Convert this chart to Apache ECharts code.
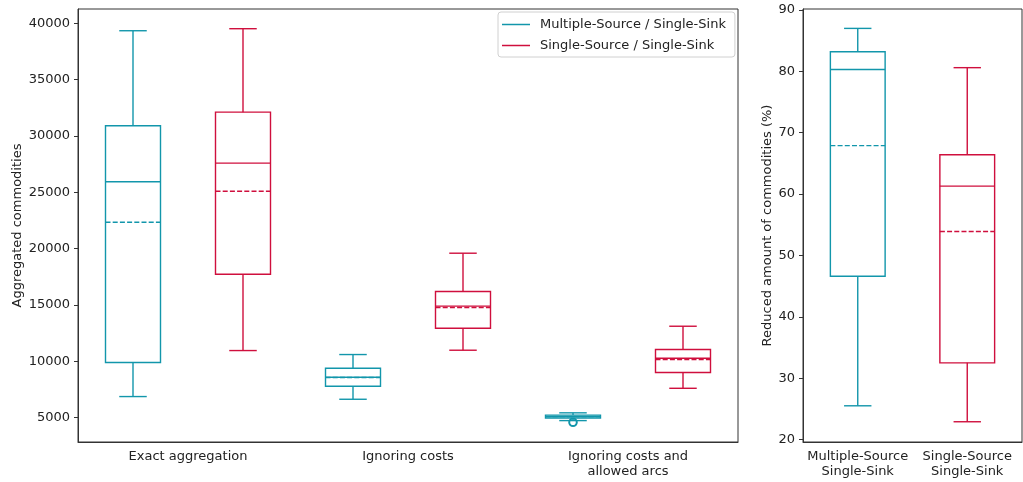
<!DOCTYPE html>
<html>
<head>
<meta charset="utf-8">
<script src="https://cdn.jsdelivr.net/npm/echarts@6/dist/echarts.min.js"></script>
<style>
  html, body { margin: 0; padding: 0; background: #fff; }
  #chart { width: 1023px; height: 482px; }
</style>
</head>
<body>
<div id="chart"></div>
<script>
// Aggregation scenarios (left panel)
const scenarios = ['Exact aggregation', 'Ignoring costs', 'Ignoring costs and\nallowed arcs'];
const seriesNames = ['Multiple-Source / Single-Sink', 'Single-Source / Single-Sink'];

// Multiple-Source / Single-Sink: aggregated commodities
const msLow    = [6865, 6625, 4730];
const msQ1     = [9885, 7780, 4960];
const msMedian = [25940, 8580, 5090];
const msQ3     = [30910, 9380, 5220];
const msHigh   = [39350, 10596, 5420];
const msMean   = [22350, 8560, 5080];
const msFliers = [[2, 4580]];

// Single-Source / Single-Sink: aggregated commodities
const ssLow    = [10950, 10980, 7600];
const ssQ1     = [17730, 12930, 9000];
const ssMedian = [27590, 14900, 10270];
const ssQ3     = [32120, 16190, 11040];
const ssHigh   = [39530, 19595, 13110];
const ssMean   = [25100, 14780, 10150];
const ssFliers = [];

// Reduction in commodities, percent (right panel)
const problemTypes = ['Multiple-Source\nSingle-Sink', 'Single-Source\nSingle-Sink'];
const redLow    = [25.5, 22.9];
const redQ1     = [46.6, 32.5];
const redMedian = [80.3, 61.3];
const redQ3     = [83.2, 66.4];
const redHigh   = [87.0, 80.6];
const redMean   = [67.9, 53.9];

const leftTicks  = [5000, 10000, 15000, 20000, 25000, 30000, 35000, 40000];
const rightTicks = [20, 30, 40, 50, 60, 70, 80, 90];

const TEAL = '#1296ab';
const RED = '#cf0f3d';
const INK = '#222';
const SPINE = '#333';
const FONT = 'DejaVu Sans';

function rows(low, q1, med, q3, high, mean) {
  return low.map((_, i) => [i, low[i], q1[i], med[i], q3[i], high[i], mean[i]]);
}

// Draws one box per data item, shifted by `shift` band widths from the category centre;
// `widthFrac` is the box width as a fraction of the band, caps are half of it
function boxRenderer(color, shift, widthFrac, fliers) {
  return function (params, api) {
    const idx = api.value(0);
    const band = api.size([1, 0])[0];
    const cx = api.coord([idx, api.value(3)])[0] + shift * band;
    const half = band * widthFrac / 2;
    const capHalf = half / 2;
    const y = k => api.coord([idx, api.value(k)])[1];
    const yLow = y(1), yQ1 = y(2), yMed = y(3), yQ3 = y(4), yHigh = y(5), yMean = y(6);
    const st = { stroke: color, lineWidth: 1.4, fill: null };
    const children = [
      { type: 'line', shape: { x1: cx, y1: yQ1, x2: cx, y2: yLow }, style: st },
      { type: 'line', shape: { x1: cx, y1: yQ3, x2: cx, y2: yHigh }, style: st },
      { type: 'line', shape: { x1: cx - capHalf, y1: yLow, x2: cx + capHalf, y2: yLow }, style: st },
      { type: 'line', shape: { x1: cx - capHalf, y1: yHigh, x2: cx + capHalf, y2: yHigh }, style: st },
      { type: 'rect', shape: { x: cx - half, y: yQ3, width: half * 2, height: yQ1 - yQ3 }, style: st },
      { type: 'line', shape: { x1: cx - half, y1: yMed, x2: cx + half, y2: yMed }, style: st },
      { type: 'line', shape: { x1: cx - half, y1: yMean, x2: cx + half, y2: yMean },
        style: { stroke: color, lineWidth: 1.4, lineDash: [5, 2.2] } }
    ];
    (fliers || []).filter(f => f[0] === idx).forEach(f => {
      const p = api.coord([idx, f[1]]);
      children.push({ type: 'circle', shape: { cx: cx, cy: p[1], r: 3.8 },
        style: { stroke: color, lineWidth: 2, fill: null } });
    });
    return { type: 'group', children: children };
  };
}

const axisText = { color: INK, fontFamily: FONT, fontSize: 13 };
const plain = v => String(v);

const chart = echarts.init(document.getElementById('chart'), null, { renderer: 'canvas' });
chart.setOption({
  animation: false,
  backgroundColor: '#fff',
  textStyle: { fontFamily: FONT },
  legend: {
    orient: 'vertical',
    left: 498, top: 12,
    padding: [5, 9, 4, 4],
    itemGap: 6,
    itemWidth: 28, itemHeight: 1.5,
    icon: 'rect',
    borderColor: '#d0d0d0', borderWidth: 1, borderRadius: 3,
    backgroundColor: '#fff',
    textStyle: { color: INK, fontFamily: FONT, fontSize: 13, lineHeight: 15, padding: [0, 0, 0, 5] },
    data: seriesNames
  },
  grid: [
    { left: 78, right: 285, top: 9, bottom: 40, outerBoundsMode: 'none', containLabel: false,
      show: true, borderColor: SPINE, borderWidth: 1, backgroundColor: 'transparent' },
    { left: 803, right: 1, top: 9, bottom: 40, outerBoundsMode: 'none', containLabel: false,
      show: true, borderColor: SPINE, borderWidth: 1, backgroundColor: 'transparent' }
  ],
  xAxis: [
    {
      gridIndex: 0, type: 'category', data: scenarios, boundaryGap: true,
      axisLine: { lineStyle: { color: SPINE } },
      axisTick: { alignWithLabel: true, length: 4, lineStyle: { color: SPINE } },
      axisLabel: Object.assign({ margin: 7, lineHeight: 15, interval: 0 }, axisText),
      splitLine: { show: false }
    },
    {
      gridIndex: 1, type: 'category', data: problemTypes, boundaryGap: true,
      axisLine: { lineStyle: { color: SPINE } },
      axisTick: { alignWithLabel: true, length: 4, lineStyle: { color: SPINE } },
      axisLabel: Object.assign({ margin: 7, lineHeight: 15, interval: 0 }, axisText),
      splitLine: { show: false }
    }
  ],
  yAxis: [
    {
      gridIndex: 0, type: 'value', min: 2830, max: 41280,
      name: 'Aggregated commodities', nameLocation: 'middle', nameGap: 54, nameMoveOverlap: false,
      nameTextStyle: { color: INK, fontFamily: FONT, fontSize: 13 },
      axisLine: { show: true, lineStyle: { color: SPINE } },
      axisTick: { show: true, length: 4, lineStyle: { color: SPINE }, customValues: leftTicks },
      axisLabel: Object.assign({ margin: 8, customValues: leftTicks, formatter: plain }, axisText),
      splitLine: { show: false }
    },
    {
      gridIndex: 1, type: 'value', min: 19.6, max: 90.16,
      name: 'Reduced amount of commodities (%)', nameLocation: 'middle', nameGap: 29, nameMoveOverlap: false,
      nameTextStyle: { color: INK, fontFamily: FONT, fontSize: 13 },
      axisLine: { show: true, lineStyle: { color: SPINE } },
      axisTick: { show: true, length: 4, lineStyle: { color: SPINE }, customValues: rightTicks },
      axisLabel: Object.assign({ margin: 8, customValues: rightTicks, formatter: plain }, axisText),
      splitLine: { show: false }
    }
  ],
  series: [
    {
      name: seriesNames[0], type: 'custom', xAxisIndex: 0, yAxisIndex: 0,
      itemStyle: { color: TEAL },
      encode: { x: 0, y: [1, 2, 3, 4, 5, 6] },
      renderItem: boxRenderer(TEAL, -0.25, 0.25, msFliers),
      data: rows(msLow, msQ1, msMedian, msQ3, msHigh, msMean)
    },
    {
      name: seriesNames[1], type: 'custom', xAxisIndex: 0, yAxisIndex: 0,
      itemStyle: { color: RED },
      encode: { x: 0, y: [1, 2, 3, 4, 5, 6] },
      renderItem: boxRenderer(RED, 0.25, 0.25, ssFliers),
      data: rows(ssLow, ssQ1, ssMedian, ssQ3, ssHigh, ssMean)
    },
    {
      name: seriesNames[0], type: 'custom', xAxisIndex: 1, yAxisIndex: 1,
      itemStyle: { color: TEAL },
      encode: { x: 0, y: [1, 2, 3, 4, 5, 6] },
      renderItem: boxRenderer(TEAL, 0, 0.5, []),
      data: rows(redLow, redQ1, redMedian, redQ3, redHigh, redMean).slice(0, 1)
    },
    {
      name: seriesNames[1], type: 'custom', xAxisIndex: 1, yAxisIndex: 1,
      itemStyle: { color: RED },
      encode: { x: 0, y: [1, 2, 3, 4, 5, 6] },
      renderItem: boxRenderer(RED, 0, 0.5, []),
      data: rows(redLow, redQ1, redMedian, redQ3, redHigh, redMean).slice(1, 2)
    }
  ]
});
</script>
</body>
</html>
